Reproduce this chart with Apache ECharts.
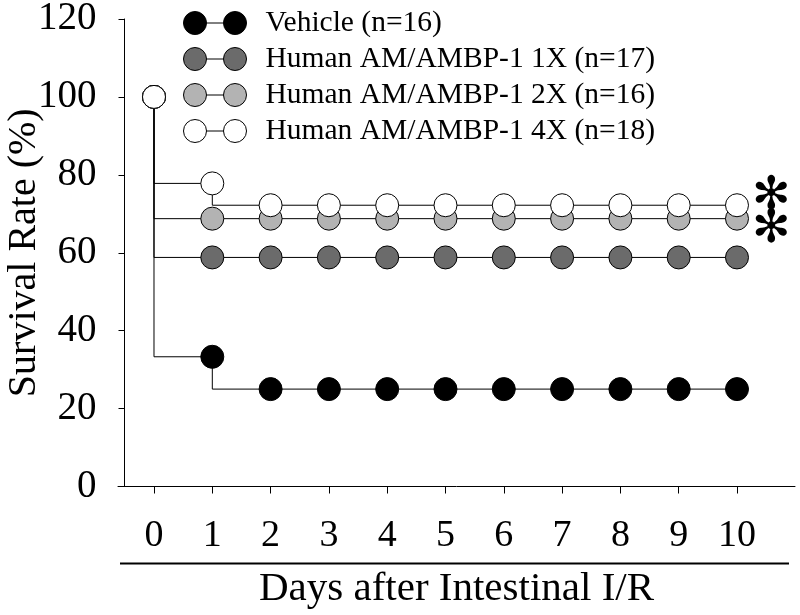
<!DOCTYPE html>
<html>
<head>
<meta charset="utf-8">
<script src="https://cdn.jsdelivr.net/npm/echarts@6/dist/echarts.min.js"></script>
<style>html,body{margin:0;padding:0;background:#fff}#c{width:800px;height:615px}</style>
</head>
<body>
<div id="c"></div>
<script>
// ---- data ----
var days = [0, 1, 2, 3, 4, 5, 6, 7, 8, 9, 10];
var seriesNames = ['Vehicle (n=16)', 'Human AM/AMBP-1 1X (n=17)', 'Human AM/AMBP-1 2X (n=16)', 'Human AM/AMBP-1 4X (n=18)'];
var vehicle = [100, 33.3, 25, 25, 25, 25, 25, 25, 25, 25, 25];
var dose1x  = [100, 58.8, 58.8, 58.8, 58.8, 58.8, 58.8, 58.8, 58.8, 58.8, 58.8];
var dose2x  = [100, 68.75, 68.75, 68.75, 68.75, 68.75, 68.75, 68.75, 68.75, 68.75, 68.75];
var dose4x  = [100, 77.8, 72.2, 72.2, 72.2, 72.2, 72.2, 72.2, 72.2, 72.2, 72.2];
var significant = [false, false, true, true];
var yTicks = [0, 20, 40, 60, 80, 100, 120];

var allValues = [vehicle, dose1x, dose2x, dose4x];
var fills = ['#000000', '#6b6b6b', '#b3b3b3', '#ffffff'];
var starOffsets = [[0, 0], [0, 0], [0, 11], [0, -8]];
var FONT = 'Liberation Serif';

var iconPath = 'path://M0,11.5A11.5,11.5 0 1,1 23,11.5A11.5,11.5 0 1,1 0,11.5Z' +
  'M40,11.5A11.5,11.5 0 1,1 63,11.5A11.5,11.5 0 1,1 40,11.5Z M23,11.5L40,11.5';

var series = allValues.map(function (vals, si) {
  var data = vals.map(function (v, i) {
    var item = { value: [days[i], v] };
    if (significant[si] && i === vals.length - 1) {
      item.label = {
        show: true, position: 'right', distance: 3, formatter: '\u273B',
        fontFamily: 'DejaVu Sans', fontSize: 46, color: '#000',
        offset: starOffsets[si]
      };
    }
    return item;
  });
  return {
    name: seriesNames[si],
    type: 'line',
    step: 'start',
    data: data,
    symbol: 'circle',
    symbolSize: 23,
    showAllSymbol: true,
    itemStyle: { color: fills[si], borderColor: '#000', borderWidth: 1 },
    lineStyle: { color: '#000', width: 1 },
    emphasis: { disabled: true },
    animation: false
  };
});

var chart = echarts.init(document.getElementById('c'));
chart.setOption({
  backgroundColor: '#fff',
  animation: false,
  grid: { left: 118, right: 5, top: 19, bottom: 128.5, containLabel: false, outerBoundsMode: 'none' },
  legend: {
    orient: 'vertical',
    left: 178,
    top: 3,
    itemWidth: 63,
    itemHeight: 23,
    itemGap: 6,
    icon: iconPath,
    selectedMode: false,
    itemStyle: { borderColor: '#000', borderWidth: 1 },
    textStyle: { fontFamily: FONT, fontSize: 29.5, color: '#000', lineHeight: 23, padding: [0, 0, 0, 14] },
    data: seriesNames
  },
  xAxis: {
    type: 'value',
    min: -0.6175,
    max: 10.995,
    name: 'Days after Intestinal I/R',
    nameLocation: 'middle',
    nameGap: 82,
    nameMoveOverlap: false,
    nameTextStyle: { fontFamily: FONT, fontSize: 41, color: '#000' },
    axisLine: { onZero: false, lineStyle: { color: '#000', width: 1 } },
    axisTick: { show: true, length: 7, customValues: days, lineStyle: { color: '#000' } },
    axisLabel: { customValues: days, margin: 31, fontFamily: FONT, fontSize: 38, color: '#000' },
    splitLine: { show: false }
  },
  yAxis: {
    type: 'value',
    min: 0,
    max: 120,
    interval: 20,
    offset: -6.5,
    name: 'Survival Rate (%)',
    nameLocation: 'middle',
    nameGap: 80,
    nameMoveOverlap: false,
    nameTextStyle: { fontFamily: FONT, fontSize: 40, color: '#000' },
    axisLine: { show: true, onZero: false, lineStyle: { color: '#000', width: 1 } },
    axisTick: { show: true, length: 6, customValues: yTicks, lineStyle: { color: '#000' } },
    axisLabel: { customValues: yTicks, margin: 28, fontFamily: FONT, fontSize: 39, color: '#000' },
    splitLine: { show: false }
  },
  graphic: [{
    type: 'line',
    shape: { x1: 120, y1: 563.5, x2: 789, y2: 563.5 },
    style: { stroke: '#000', lineWidth: 2 },
    silent: true
  }],
  series: series
});
</script>
</body>
</html>
